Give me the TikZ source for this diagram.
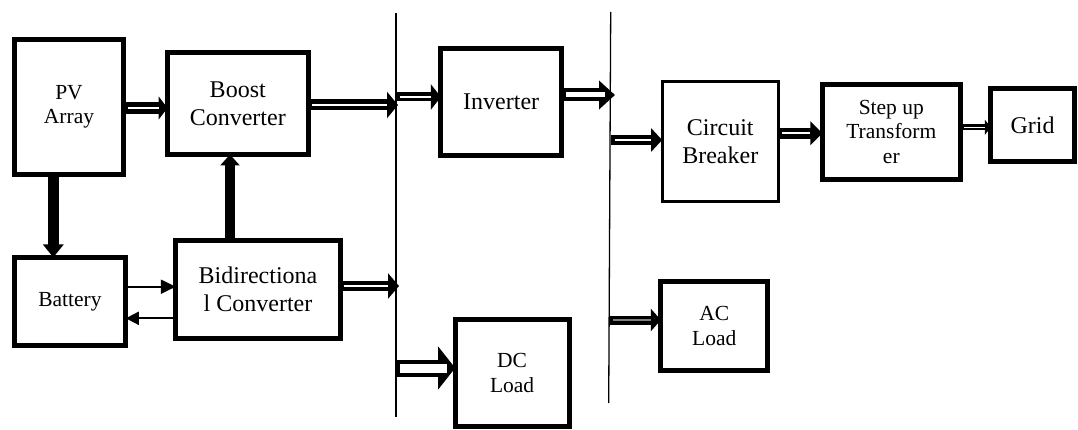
\documentclass[tikz,border=0pt]{standalone}
\usepackage{fontspec}
\setmainfont{Liberation Serif}
\usetikzlibrary{arrows.meta,backgrounds}
\tikzset{
  bigtext/.style={font=\fontsize{24}{28}\selectfont},
  smalltext/.style={font=\fontsize{21.5}{24.5}\selectfont},
  blockbox/.style={draw=black, line width=5pt, inner sep=0pt, outer sep=0pt, align=center},
  thinbox/.style={blockbox, line width=3pt},
  busline/.style={draw=black, line width=1.3pt},
  flow/.style n args={6}{draw=black, line width=#1, -{Triangle[length=#3,width=#4]},
     postaction={draw=#6, line width=#2, -, shorten >=#5, shorten <=4pt}},
  solidflow/.style n args={3}{draw=black, line width=#1, -{Triangle[length=#2,width=#3]}},
}
\begin{document}
\begin{tikzpicture}[x=1pt,y=-1pt]
\useasboundingbox (0,0) rectangle (1078,430);
% blocks
\node[blockbox, smalltext, minimum width=109pt, minimum height=135pt] (PV) at (69,107) {PV\\Array};
\node[blockbox, bigtext, minimum width=140.5pt, minimum height=101.5pt] (Boost) at (237.75,103.75) {Boost\\Converter};
\node[blockbox, bigtext, minimum width=120.7pt, minimum height=107.5pt] (Inv) at (501.2,102.2) {Inverter};
\node[thinbox, bigtext, minimum width=116.3pt, minimum height=119.7pt] (CB) at (720.3,141.3) {Circuit\\Breaker};
\node[blockbox, smalltext, minimum width=137.7pt, minimum height=95pt] (Step) at (891.3,131.7) {Step up\\Transform\\er};
\node[blockbox, bigtext, minimum width=83.4pt, minimum height=73.3pt] (Grid) at (1032.5,125.2) {Grid};
\node[blockbox, smalltext, minimum width=111.6pt, minimum height=88.3pt] (Bat) at (70,301.6) {Battery};
\node[blockbox, bigtext, minimum width=164.4pt, minimum height=97.4pt] (Bidir) at (258,289.5) {Bidirectiona\\l Converter};
\node[blockbox, smalltext, minimum width=113.8pt, minimum height=106.7pt] (DC) at (512.1,373.2) {DC\\Load};
\node[blockbox, smalltext, minimum width=106.7pt, minimum height=88.4pt] (AC) at (714.2,326) {AC\\Load};
% buses
\coordinate (bus1top) at (396,13);
\coordinate (bus1bot) at (396,417);
\coordinate (bus2top) at (610.7,12);
\coordinate (bus2bot) at (608.7,403);
\draw[busline] (bus1top) -- (bus1bot);
\draw[busline] (bus2top) -- (bus2bot);
% bus contact points
\coordinate (b1boost) at (398,105);
\coordinate (b1inv) at (396,97);
\coordinate (b1bidir) at (399,286);
\coordinate (b1dc) at (396,368);
\coordinate (b2inv) at (615,95);
\coordinate (b2cb) at (610.5,140);
\coordinate (b2ac) at (608.9,320);
\begin{pgfonlayer}{background}
\draw[flow={11.5pt}{2pt}{9pt}{23pt}{9pt}{white}] (PV.east |- 0,108) -- (Boost.west |- 0,108);
\draw[flow={11pt}{2pt}{11pt}{26pt}{11pt}{white}] (Boost.east |- b1boost) -- (b1boost);
\draw[flow={9pt}{1.6pt}{10pt}{25pt}{10pt}{white}] (b1inv) -- (Inv.west |- b1inv);
\draw[flow={13pt}{5pt}{16pt}{28pt}{10pt}{white}] (Inv.east |- b2inv) -- (b2inv);
\draw[flow={10pt}{1.6pt}{11pt}{23pt}{11pt}{white}] (b2cb) -- (CB.west |- b2cb);
\draw[flow={11pt}{2pt}{12pt}{23pt}{12pt}{white}] (CB.east |- 0,133.3) -- (Step.west |- 0,133.3);
\draw[flow={6pt}{1.2pt}{6pt}{15pt}{6pt}{white}] (Step.east |- 0,127.3) -- (Grid.west |- 0,127.3);
\draw[flow={10pt}{2pt}{11pt}{25pt}{11pt}{white}] (Bidir.east |- b1bidir) -- (b1bidir);
\draw[flow={17pt}{9pt}{17pt}{42pt}{8pt}{white}] (b1dc) -- (DC.west |- b1dc);
\draw[flow={9pt}{2pt}{10pt}{22pt}{10pt}{gray}] (b2ac) -- (AC.west |- b2ac);
\draw[solidflow={11pt}{13pt}{20pt}] (53.3,0 |- PV.south) -- (53.3,0 |- Bat.north);
\draw[solidflow={10pt}{11pt}{19pt}] (230,0 |- Bidir.north) -- (230,0 |- Boost.south);
\draw[solidflow={2pt}{15pt}{14pt}] (Bat.east |- 0,286.7) -- (Bidir.west |- 0,286.7);
\draw[solidflow={2pt}{13pt}{13pt}] (Bidir.west |- 0,318.3) -- (Bat.east |- 0,318.3);
\end{pgfonlayer}
\end{tikzpicture}
\end{document}
